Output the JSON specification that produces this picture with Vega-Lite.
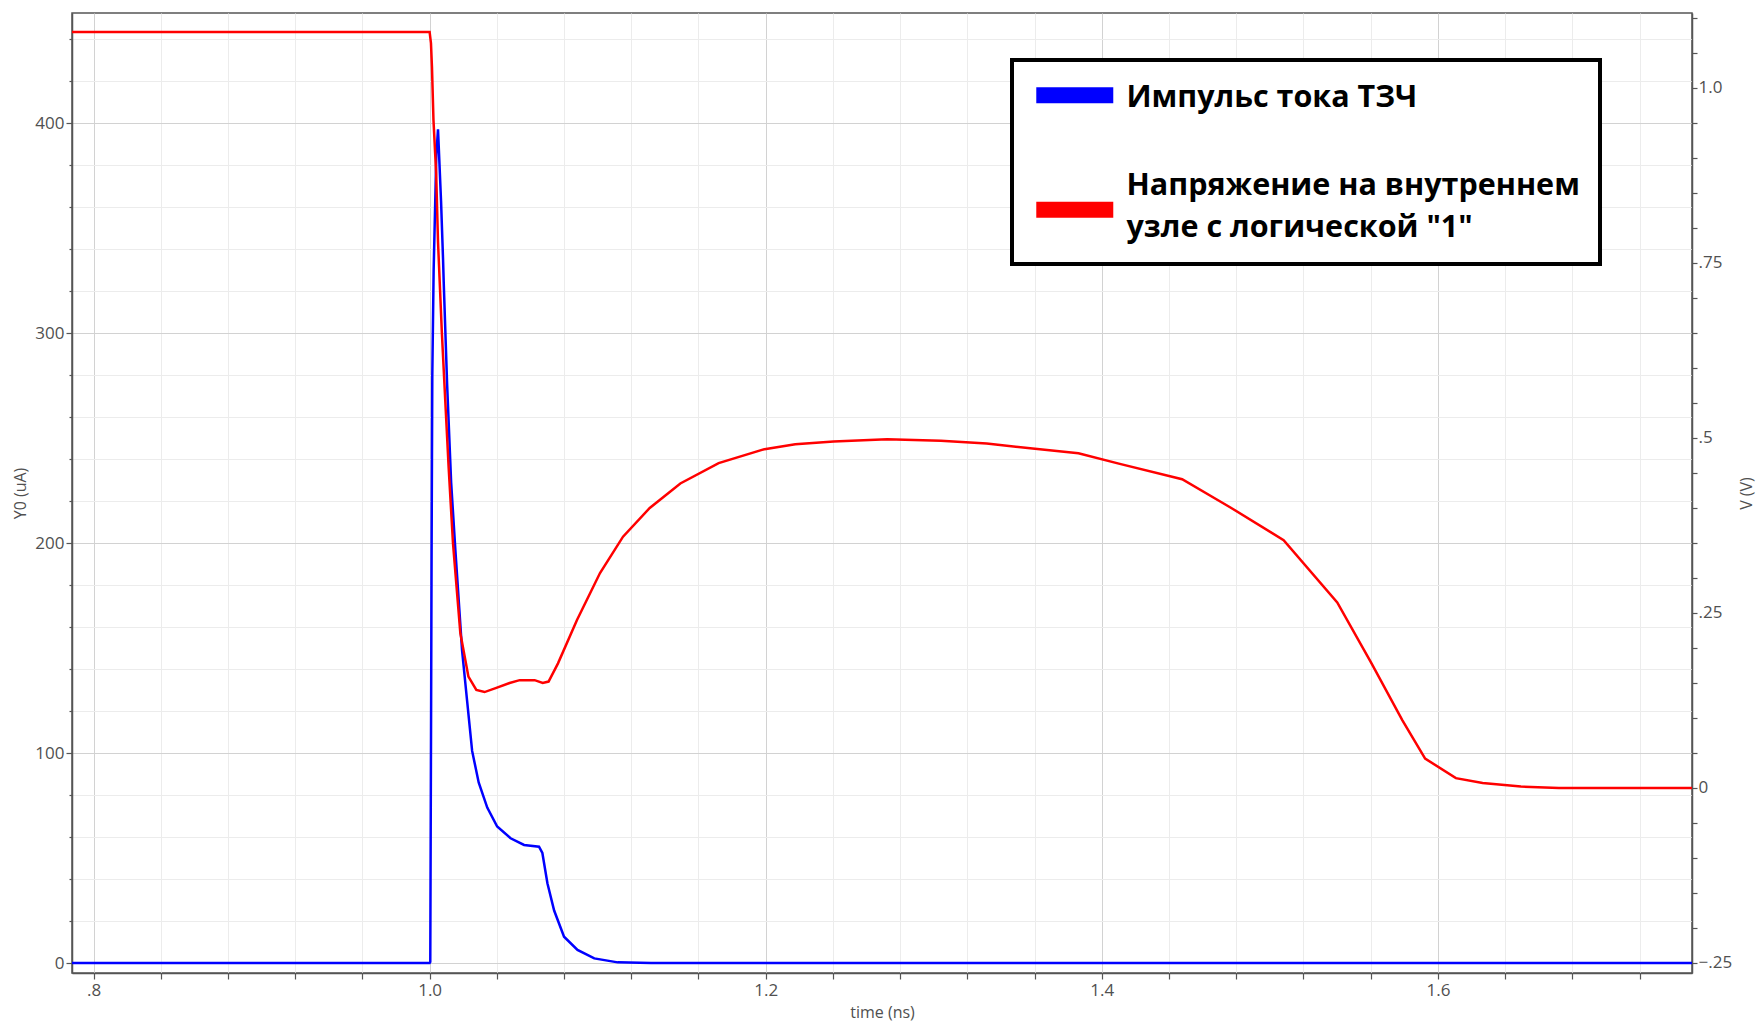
{
  "$schema": "https://vega.github.io/schema/vega-lite/v6.json",
  "width": 1620,
  "height": 960,
  "autosize": {"type": "none"},
  "padding": {"left": 72, "top": 13, "right": 66, "bottom": 50},
  "background": "white",
  "config": {
    "view": {"stroke": "#555555", "strokeWidth": 1.5},
    "font": "Open Sans",
    "axis": {
      "labelFont": "Open Sans", "labelFontSize": 17, "labelColor": "#505050",
      "titleFont": "Open Sans", "titleFontSize": 16, "titleFontWeight": "normal", "titleColor": "#505050",
      "domainColor": "#555555", "domainWidth": 1.5, "tickColor": "#555555", "tickWidth": 1.2,
      "labelFlush": false, "labelOverlap": false
    }
  },
  "datasets": {
    "current": [
      {"t": 0.7872, "i": 0}, {"t": 1.0, "i": 0}, {"t": 1.0004, "i": 0.5}, {"t": 1.0008, "i": 100},
      {"t": 1.0012, "i": 200}, {"t": 1.0016, "i": 280}, {"t": 1.0024, "i": 330}, {"t": 1.004, "i": 385},
      {"t": 1.005, "i": 397}, {"t": 1.0068, "i": 363}, {"t": 1.008, "i": 335}, {"t": 1.0084, "i": 324},
      {"t": 1.0104, "i": 276}, {"t": 1.0128, "i": 229}, {"t": 1.0153, "i": 197}, {"t": 1.0193, "i": 149},
      {"t": 1.0223, "i": 125}, {"t": 1.0253, "i": 101}, {"t": 1.0292, "i": 86}, {"t": 1.0343, "i": 74},
      {"t": 1.0402, "i": 65}, {"t": 1.0482, "i": 59.4}, {"t": 1.0562, "i": 56.2}, {"t": 1.0651, "i": 55.4},
      {"t": 1.0671, "i": 52.4}, {"t": 1.0701, "i": 38}, {"t": 1.0741, "i": 25}, {"t": 1.08, "i": 12.5},
      {"t": 1.088, "i": 6.2}, {"t": 1.098, "i": 2.2}, {"t": 1.1119, "i": 0.3}, {"t": 1.1318, "i": 0},
      {"t": 1.7512, "i": 0}
    ],
    "voltage": [
      {"t": 0.7872, "v": 1.08}, {"t": 1.0, "v": 1.08}, {"t": 1.0008, "v": 1.064}, {"t": 1.0014, "v": 1.03},
      {"t": 1.0023, "v": 0.954}, {"t": 1.0039, "v": 0.878}, {"t": 1.005, "v": 0.78}, {"t": 1.0073, "v": 0.65},
      {"t": 1.0093, "v": 0.554}, {"t": 1.0113, "v": 0.459}, {"t": 1.0139, "v": 0.35}, {"t": 1.0183, "v": 0.221},
      {"t": 1.0231, "v": 0.159}, {"t": 1.0278, "v": 0.14}, {"t": 1.0327, "v": 0.137}, {"t": 1.0397, "v": 0.143},
      {"t": 1.0476, "v": 0.15}, {"t": 1.0536, "v": 0.154}, {"t": 1.0625, "v": 0.154}, {"t": 1.0673, "v": 0.15},
      {"t": 1.0708, "v": 0.152}, {"t": 1.0764, "v": 0.178}, {"t": 1.0877, "v": 0.24}, {"t": 1.1014, "v": 0.307},
      {"t": 1.1151, "v": 0.359}, {"t": 1.131, "v": 0.4}, {"t": 1.1492, "v": 0.435}, {"t": 1.172, "v": 0.464},
      {"t": 1.1993, "v": 0.484}, {"t": 1.2176, "v": 0.491}, {"t": 1.2404, "v": 0.495}, {"t": 1.2723, "v": 0.498},
      {"t": 1.3042, "v": 0.496}, {"t": 1.3315, "v": 0.492}, {"t": 1.3588, "v": 0.485}, {"t": 1.3861, "v": 0.478},
      {"t": 1.4107, "v": 0.463}, {"t": 1.4478, "v": 0.441}, {"t": 1.4763, "v": 0.401}, {"t": 1.5082, "v": 0.354},
      {"t": 1.5401, "v": 0.265}, {"t": 1.5605, "v": 0.178}, {"t": 1.5788, "v": 0.097}, {"t": 1.5924, "v": 0.042},
      {"t": 1.6107, "v": 0.014}, {"t": 1.6266, "v": 0.007}, {"t": 1.6494, "v": 0.002}, {"t": 1.672, "v": 0.0},
      {"t": 1.7512, "v": 0.0}
    ]
  },
  "encoding": {
    "x": {
      "field": "t", "type": "quantitative",
      "scale": {"domain": [0.7872, 1.7512], "nice": false, "zero": false},
      "axis": {
        "title": "time (ns)",
        "values": [0.8, 0.84, 0.88, 0.92, 0.96, 1, 1.04, 1.08, 1.12, 1.16, 1.2, 1.24, 1.28, 1.32, 1.36, 1.4, 1.44, 1.48, 1.52, 1.56, 1.6, 1.64, 1.68, 1.72],
        "labelExpr": "abs(datum.value*5 - round(datum.value*5)) < 0.001 ? (datum.value < 1 ? replace(format(datum.value, '.1f'), '0.', '.') : format(datum.value, '.1f')) : ''",
        "tickSize": 6, "labelPadding": 3,
        "grid": true,
        "gridColor": {"condition": {"test": "abs(datum.value*5 - round(datum.value*5)) < 0.001", "value": "#d2d2d2"}, "value": "#ececec"},
        "gridWidth": 1,
        "titleX": 810, "titleY": 39, "titleBaseline": "middle", "titleAlign": "center"
      }
    }
  },
  "layer": [
    {
      "data": {"name": "current"},
      "mark": {"type": "line", "strokeWidth": 2.5, "clip": true},
      "encoding": {
        "y": {
          "field": "i", "type": "quantitative",
          "scale": {"domain": [-4.76, 452.4], "nice": false, "zero": false},
          "axis": {
            "title": "Y0 (uA)",
            "values": [0, 20, 40, 60, 80, 100, 120, 140, 160, 180, 200, 220, 240, 260, 280, 300, 320, 340, 360, 380, 400, 420, 440],
            "labelExpr": "datum.value % 100 == 0 ? datum.label : ''",
            "tickSize": {"condition": {"test": "datum.value % 100 == 0", "value": 6}, "value": 3},
            "labelPadding": 2,
            "grid": true,
            "gridColor": {"condition": {"test": "datum.value % 100 == 0", "value": "#d2d2d2"}, "value": "#ececec"},
            "titleX": -52, "titleY": 480, "titleBaseline": "middle", "titleAlign": "center"
          }
        },
        "color": {
          "datum": "Импульс тока ТЗЧ", "type": "nominal",
          "scale": {"domain": ["Импульс тока ТЗЧ", "Напряжение на внутреннем узле с логической \"1\""], "range": ["#0000ff", "#ff0000"]},
          "legend": {
            "title": null, "orient": "none", "legendX": 940, "legendY": 47, "direction": "vertical",
            "padding": 20, "strokeColor": "#000000", "fillColor": "#ffffff",
            "symbolType": "M-1.14,-0.83H6.86V0.83H-1.14Z", "symbolSize": 370.5, "symbolStrokeWidth": 0,
            "labelFont": "Open Sans", "labelFontSize": 30.5, "labelFontWeight": "bold", "labelColor": "#000000",
            "labelLimit": 900, "labelOffset": 64, "rowPadding": 54,
            "labelExpr": "indexof(datum.label, 'Напряжение') == 0 ? ['Напряжение на внутреннем', 'узле с логической \"1\"'] : datum.label",
            "encode": {
              "legend": {"update": {"strokeWidth": {"value": 4}}},
              "symbols": {"update": {
                "fill": {"scale": "color", "field": "value"},
                "shape": {"signal": "indexof(datum.value, 'Напряжение') == 0 ? 'M-1.14,1.92H6.86V3.58H-1.14Z' : 'M-1.14,-0.83H6.86V0.83H-1.14Z'"}
              }},
              "labels": {"update": {"lineHeight": {"value": 42}, "dy": {"value": 3}}}
            }
          }
        }
      }
    },
    {
      "data": {"name": "voltage"},
      "mark": {"type": "line", "strokeWidth": 2.5, "clip": true},
      "encoding": {
        "y": {
          "field": "v", "type": "quantitative",
          "scale": {"domain": [-0.2643, 1.107], "nice": false, "zero": false},
          "axis": {
            "orient": "right",
            "title": "V (V)",
            "values": [-0.25, -0.2, -0.15, -0.1, -0.05, 0, 0.05, 0.1, 0.15, 0.2, 0.25, 0.3, 0.35, 0.4, 0.45, 0.5, 0.55, 0.6, 0.65, 0.7, 0.75, 0.8, 0.85, 0.9, 0.95, 1.0, 1.05, 1.1],
            "labelExpr": "abs(datum.value*4 - round(datum.value*4)) < 0.001 ? (abs(datum.value - 1) < 0.001 ? '1.0' : (abs(datum.value) < 0.001 ? '0' : replace(format(datum.value, '.2~f'), '0.', '.'))) : ''",
            "tickSize": 5, "labelPadding": 1,
            "grid": false,
            "titleX": 54, "titleY": 480, "titleAngle": 270, "titleBaseline": "middle", "titleAlign": "center"
          }
        },
        "color": {"datum": "Напряжение на внутреннем узле с логической \"1\"", "type": "nominal"}
      }
    }
  ],
  "resolve": {"scale": {"y": "independent"}}
}
